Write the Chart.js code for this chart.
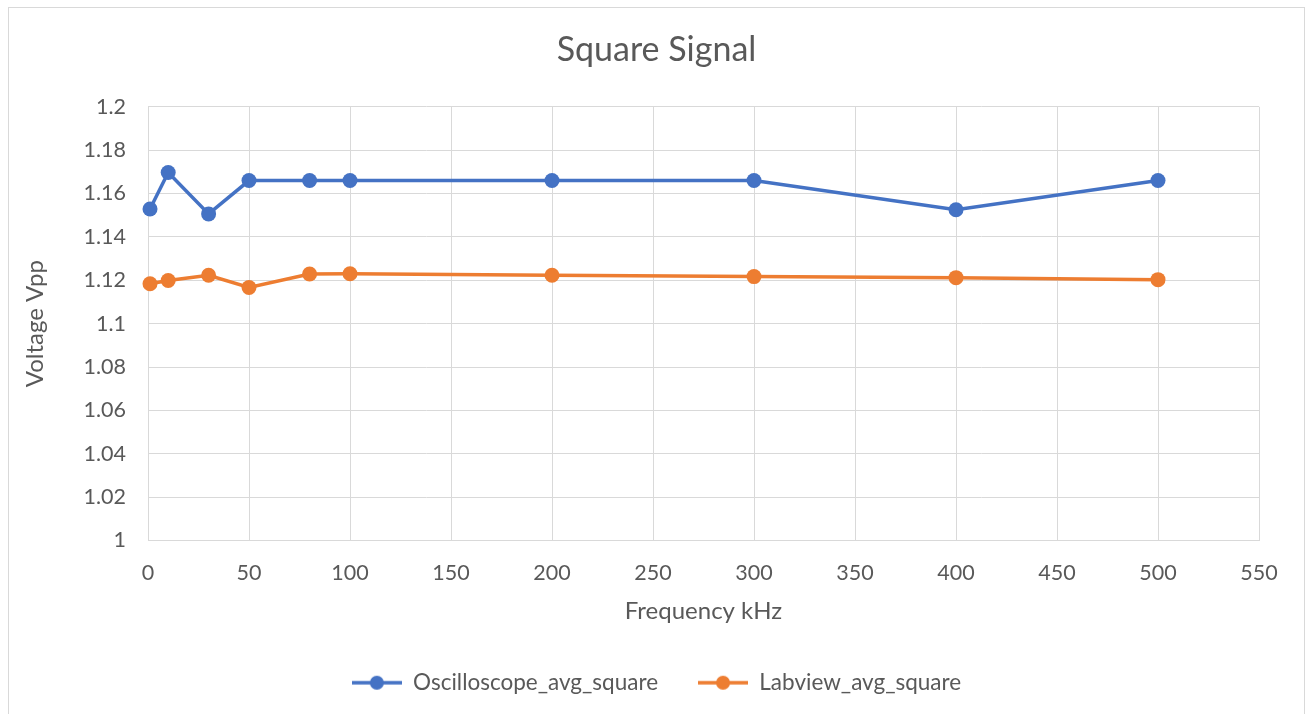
<!DOCTYPE html>
<html>
<head>
<meta charset="utf-8">
<title>Square Signal</title>
<script src="https://cdn.jsdelivr.net/npm/chart.js@4.4.1/dist/chart.umd.min.js"></script>
<style>
  html, body { margin: 0; padding: 0; background: #ffffff; }
  #wrap { width: 1306px; height: 714px; position: relative; }
</style>
</head>
<body>
<div id="wrap"><canvas id="chart" width="1306" height="714"></canvas></div>
<script>
// Frequency points (kHz)
const frequencies = [1, 10, 30, 50, 80, 100, 200, 300, 400, 500];
// Measured peak-to-peak voltage (V)
const oscilloscopeAvg = [1.1529, 1.1697, 1.1506, 1.1660, 1.1660, 1.1660, 1.1660, 1.1660, 1.1525, 1.1660];
const labviewAvg      = [1.1184, 1.1199, 1.1223, 1.1167, 1.1229, 1.1230, 1.1223, 1.1217, 1.1212, 1.1203];
// Axis tick labels
const yTickLabels = ['1', '1.02', '1.04', '1.06', '1.08', '1.1', '1.12', '1.14', '1.16', '1.18', '1.2'];
const xTickLabels = ['0', '50', '100', '150', '200', '250', '300', '350', '400', '450', '500', '550'];

const seriesNames = ['Oscilloscope_avg_square', 'Labview_avg_square'];
const BLUE = '#4472C4';
const ORANGE = '#ED7D31';
const TEXT = '#595959';
const GRID = '#D9D9D9';
const FONT = 'Lato, "Open Sans", sans-serif';

function toPoints(values) {
  return frequencies.map((f, i) => ({ x: f, y: values[i] }));
}

// Legend swatch: short line with a marker on it
function legendSwatch(color) {
  const c = document.createElement('canvas');
  c.width = 50; c.height = 16;
  const g = c.getContext('2d');
  g.strokeStyle = color;
  g.lineWidth = 3.5;
  g.beginPath(); g.moveTo(0, 8); g.lineTo(50, 8); g.stroke();
  g.fillStyle = color;
  g.beginPath(); g.arc(25, 8, 7, 0, Math.PI * 2); g.fill();
  return c;
}
const swatches = [legendSwatch(BLUE), legendSwatch(ORANGE)];

// Outer chart frame
const framePlugin = {
  id: 'frame',
  beforeDraw(chart) {
    const ctx = chart.ctx;
    ctx.save();
    ctx.fillStyle = '#ffffff';
    ctx.fillRect(0, 0, chart.width, chart.height);
    ctx.strokeStyle = GRID;
    ctx.lineWidth = 1;
    ctx.strokeRect(8.5, 7.5, 1296, 720);
    ctx.restore();
  }
};

function seriesStyle(color) {
  return {
    borderColor: color,
    backgroundColor: color,
    borderWidth: 3.5,
    pointRadius: 7.5,
    pointHoverRadius: 7.5,
    pointBorderWidth: 0,
    pointBackgroundColor: color,
    tension: 0,
    clip: false
  };
}

new Chart(document.getElementById('chart'), {
  type: 'line',
  data: {
    datasets: [
      Object.assign({ label: seriesNames[0], data: toPoints(oscilloscopeAvg) }, seriesStyle(BLUE)),
      Object.assign({ label: seriesNames[1], data: toPoints(labviewAvg) }, seriesStyle(ORANGE))
    ]
  },
  options: {
    responsive: false,
    animation: false,
    events: [],
    layout: { padding: { left: 8, right: 1, top: 0, bottom: 10 } },
    plugins: {
      title: {
        display: true,
        text: 'Square Signal',
        color: TEXT,
        font: { family: FONT, size: 34, weight: 'normal' },
        padding: { top: 30, bottom: 36 }
      },
      legend: {
        display: true,
        position: 'bottom',
        labels: {
          color: TEXT,
          font: { family: FONT, size: 22.5 },
          usePointStyle: true,
          pointStyleWidth: 50,
          padding: 40,
          generateLabels(chart) {
            const items = Chart.defaults.plugins.legend.labels.generateLabels(chart);
            items.forEach((it, i) => { it.pointStyle = swatches[i]; });
            return items;
          }
        }
      },
      tooltip: { enabled: false }
    },
    scales: {
      x: {
        type: 'linear',
        min: 0,
        max: 550,
        ticks: {
          stepSize: 50,
          color: TEXT,
          font: { family: FONT, size: 21.5 },
          padding: 20,
          maxRotation: 0,
          callback: (v, i) => xTickLabels[i]
        },
        grid: { color: GRID, lineWidth: 1, drawTicks: false },
        border: { color: GRID },
        title: {
          display: true,
          text: 'Frequency kHz',
          color: TEXT,
          font: { family: FONT, size: 24 },
          padding: { top: 0, bottom: 6 }
        },
        afterFit(s) { s.height = 91; }
      },
      y: {
        min: 1,
        max: 1.2,
        ticks: {
          stepSize: 0.02,
          color: TEXT,
          font: { family: FONT, size: 21.5 },
          padding: 22,
          callback: (v, i) => yTickLabels[i]
        },
        grid: { color: GRID, lineWidth: 1, drawTicks: false },
        border: { color: GRID },
        title: {
          display: true,
          text: 'Voltage Vpp',
          color: TEXT,
          font: { family: FONT, size: 24 },
          padding: { top: 13, bottom: 0 }
        },
        afterFit(s) { s.width = 140; }
      },
      yRight: {
        position: 'right',
        display: true,
        grid: { display: false },
        border: { display: false },
        ticks: { display: false },
        afterFit(s) { s.width = 46; }
      }
    }
  },
  plugins: [framePlugin]
});
</script>
</body>
</html>
